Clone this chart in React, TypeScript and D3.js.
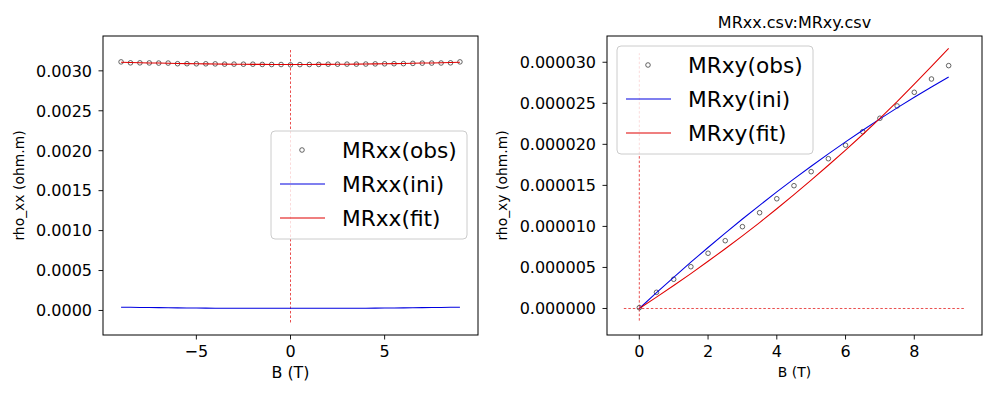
import * as d3 from 'd3';
import React from 'react';

// B grid for the longitudinal data (T)
const Bxx = [-9, -8.5, -8, -7.5, -7, -6.5, -6, -5.5, -5, -4.5, -4, -3.5, -3, -2.5, -2, -1.5, -1, -0.5,
  0, 0.5, 1, 1.5, 2, 2.5, 3, 3.5, 4, 4.5, 5, 5.5, 6, 6.5, 7, 7.5, 8, 8.5, 9];

const rhoxxObs = [0.003112, 0.003100, 0.003100, 0.003099, 0.003097, 0.003097, 0.003089, 0.003089, 0.003088,
  0.003088, 0.003087, 0.003084, 0.003084, 0.003083, 0.003083, 0.003080, 0.003079, 0.003079,
  0.003075, 0.003078, 0.003079, 0.003080, 0.003083, 0.003083, 0.003084, 0.003084, 0.003085,
  0.003087, 0.003088, 0.003089, 0.003090, 0.003093, 0.003096, 0.003097, 0.003098, 0.003100, 0.003112];

const rhoxxIni = [0.0000400, 0.0000395, 0.0000385, 0.0000370, 0.0000355, 0.0000340, 0.0000325, 0.0000315, 0.0000305,
  0.0000295, 0.0000290, 0.0000285, 0.0000280, 0.0000275, 0.0000275, 0.0000270, 0.0000270, 0.0000270,
  0.0000270, 0.0000270, 0.0000270, 0.0000270, 0.0000275, 0.0000275, 0.0000280, 0.0000285, 0.0000290,
  0.0000295, 0.0000305, 0.0000315, 0.0000325, 0.0000340, 0.0000355, 0.0000370, 0.0000385, 0.0000395, 0.0000400];

const rhoxxFit = [0.003108, 0.003105, 0.003102, 0.003099, 0.003097, 0.003095, 0.003092, 0.003090, 0.003089,
  0.003087, 0.003086, 0.003084, 0.003083, 0.003082, 0.003081, 0.003081, 0.003080, 0.003080,
  0.003080, 0.003080, 0.003080, 0.003081, 0.003081, 0.003082, 0.003083, 0.003084, 0.003086,
  0.003087, 0.003089, 0.003090, 0.003092, 0.003095, 0.003097, 0.003099, 0.003102, 0.003105, 0.003108];

// Hall data
const Bxy = [0, 0.5, 1, 1.5, 2, 2.5, 3, 3.5, 4, 4.5, 5, 5.5, 6, 6.5, 7, 7.5, 8, 8.5, 9];

const rhoxyObs = [0.10e-6, 1.97e-6, 3.56e-6, 5.09e-6, 6.73e-6, 8.26e-6, 9.97e-6, 11.67e-6, 13.37e-6, 14.96e-6,
  16.67e-6, 18.25e-6, 19.89e-6, 21.54e-6, 23.18e-6, 24.68e-6, 26.34e-6, 27.96e-6, 29.59e-6];

const rhoxyIni = [0, 1.92e-6, 3.80e-6, 5.64e-6, 7.43e-6, 9.19e-6, 10.90e-6, 12.57e-6, 14.20e-6, 15.79e-6,
  17.33e-6, 18.84e-6, 20.30e-6, 21.72e-6, 23.10e-6, 24.44e-6, 25.73e-6, 26.98e-6, 28.20e-6];

const rhoxyFit = [0, 1.38e-6, 2.80e-6, 4.25e-6, 5.75e-6, 7.28e-6, 8.85e-6, 10.47e-6, 12.15e-6, 13.88e-6,
  15.65e-6, 17.45e-6, 19.30e-6, 21.20e-6, 23.15e-6, 25.20e-6, 27.35e-6, 29.50e-6, 31.68e-6];

const xxTicksX = [-5, 0, 5];
const xxTicksY = [0, 0.0005, 0.001, 0.0015, 0.002, 0.0025, 0.003];
const xyTicksX = [0, 2, 4, 6, 8];
const xyTicksY = [0, 0.000005, 0.00001, 0.000015, 0.00002, 0.000025, 0.00003];

const FONT = '"DejaVu Sans", sans-serif';
const BLUE = '#0000e0';
const RED = '#e00000';

function Panel(props: any) {
  const { box, xDomain, yDomain, xs, obs, ini, fit, xTicks, yTicks, yFmt, xLabel, xLabelSize, yLabel,
    names, legend, vGuide, hGuide, title } = props;

  const x = d3.scaleLinear().domain(xDomain).range([box.left, box.right]);
  const y = d3.scaleLinear().domain(yDomain).range([box.bottom, box.top]);
  const line = d3.line<number>().x((d, i) => x(xs[i])).y(d => y(d));
  const xFmt = d3.format('d');
  const rows = [legend.y + 19, legend.y + 53, legend.y + 87];

  return (
    <g fontFamily={FONT}>
      {/* guides */}
      <line x1={x(0)} x2={x(0)} y1={y(vGuide[0])} y2={y(vGuide[1])}
        stroke={RED} strokeWidth={0.7} strokeDasharray="2.5,2" />
      {hGuide && (
        <line x1={x(hGuide[0])} x2={x(hGuide[1])} y1={y(0)} y2={y(0)}
          stroke={RED} strokeWidth={0.7} strokeDasharray="2.5,2" />
      )}

      {obs.map((v: number, i: number) => (
        <circle key={i} cx={x(xs[i])} cy={y(v)} r={2.3} fill="none" stroke="#333" strokeWidth={0.75} />
      ))}
      <path d={line(ini) || ''} fill="none" stroke={BLUE} strokeWidth={1.05} />
      <path d={line(fit) || ''} fill="none" stroke={RED} strokeWidth={1.05} />

      {/* frame */}
      <rect x={box.left} y={box.top} width={box.right - box.left} height={box.bottom - box.top}
        fill="none" stroke="black" strokeWidth={1} />

      {xTicks.map((t: number) => (
        <g key={'x' + t}>
          <line x1={x(t)} x2={x(t)} y1={box.bottom} y2={box.bottom + 4.5} stroke="black" strokeWidth={0.9} />
          <text x={x(t)} y={box.bottom + 22} fontSize={16} textAnchor="middle">{xFmt(t)}</text>
        </g>
      ))}
      {yTicks.map((t: number) => (
        <g key={'y' + t}>
          <line x1={box.left - 4.5} x2={box.left} y1={y(t)} y2={y(t)} stroke="black" strokeWidth={0.9} />
          <text x={box.left - 11} y={y(t) + 5.8} fontSize={16} textAnchor="end">{yFmt(t)}</text>
        </g>
      ))}

      <text x={(box.left + box.right) / 2} y={xLabel.y} fontSize={xLabelSize} textAnchor="middle">B (T)</text>
      <text transform={`translate(${yLabel.x},${(box.top + box.bottom) / 2}) rotate(-90)`}
        fontSize={13.9} textAnchor="middle">{yLabel.text}</text>
      {title && (
        <text x={(box.left + box.right) / 2} y={27.5} fontSize={16} textAnchor="middle">{title}</text>
      )}

      {/* legend */}
      <rect x={legend.x} y={legend.y} width={196} height={108} rx={4}
        fill="white" fillOpacity={0.8} stroke="#cccccc" strokeWidth={1} />
      <circle cx={legend.x + 31} cy={rows[0]} r={2.3} fill="none" stroke="#333" strokeWidth={0.75} />
      <line x1={legend.x + 9} x2={legend.x + 54} y1={rows[1]} y2={rows[1]} stroke={BLUE} strokeWidth={1.05} />
      <line x1={legend.x + 9} x2={legend.x + 54} y1={rows[2]} y2={rows[2]} stroke={RED} strokeWidth={1.05} />
      {names.map((n: string, i: number) => (
        <text key={n} x={legend.x + 71} y={rows[i] + 7.5} fontSize={21.7}>{n}</text>
      ))}
    </g>
  );
}

export default function App() {
  return (
    <div>
      <style>{'body{margin:0}'}</style>
      <svg width={1000} height={395} style={{ display: 'block', background: 'white' }}>
        <Panel
          box={{ left: 103, right: 478, top: 36, bottom: 335 }}
          xDomain={[-9.96, 9.96]}
          yDomain={[-0.000307, 0.003436]}
          xs={Bxx} obs={rhoxxObs} ini={rhoxxIni} fit={rhoxxFit}
          xTicks={xxTicksX} yTicks={xxTicksY} yFmt={d3.format('.4f')}
          xLabel={{ y: 378 }} xLabelSize={15.9}
          yLabel={{ x: 24, text: 'rho_xx (ohm.m)' }}
          names={['MRxx(obs)', 'MRxx(ini)', 'MRxx(fit)']}
          legend={{ x: 271, y: 131 }}
          vGuide={[-0.00015, 0.00326]}
        />
        <Panel
          box={{ left: 607, right: 982, top: 36, bottom: 335 }}
          xDomain={[-0.94, 9.97]}
          yDomain={[-3.23e-6, 3.32e-5]}
          xs={Bxy} obs={rhoxyObs} ini={rhoxyIni} fit={rhoxyFit}
          xTicks={xyTicksX} yTicks={xyTicksY} yFmt={d3.format('.6f')}
          xLabel={{ y: 376.5 }} xLabelSize={13.9}
          yLabel={{ x: 507, text: 'rho_xy (ohm.m)' }}
          names={['MRxy(obs)', 'MRxy(ini)', 'MRxy(fit)']}
          legend={{ x: 617, y: 46 }}
          vGuide={[-1.48e-6, 31.1e-6]}
          hGuide={[-0.45, 9.45]}
          title="MRxx.csv:MRxy.csv"
        />
      </svg>
    </div>
  );
}
